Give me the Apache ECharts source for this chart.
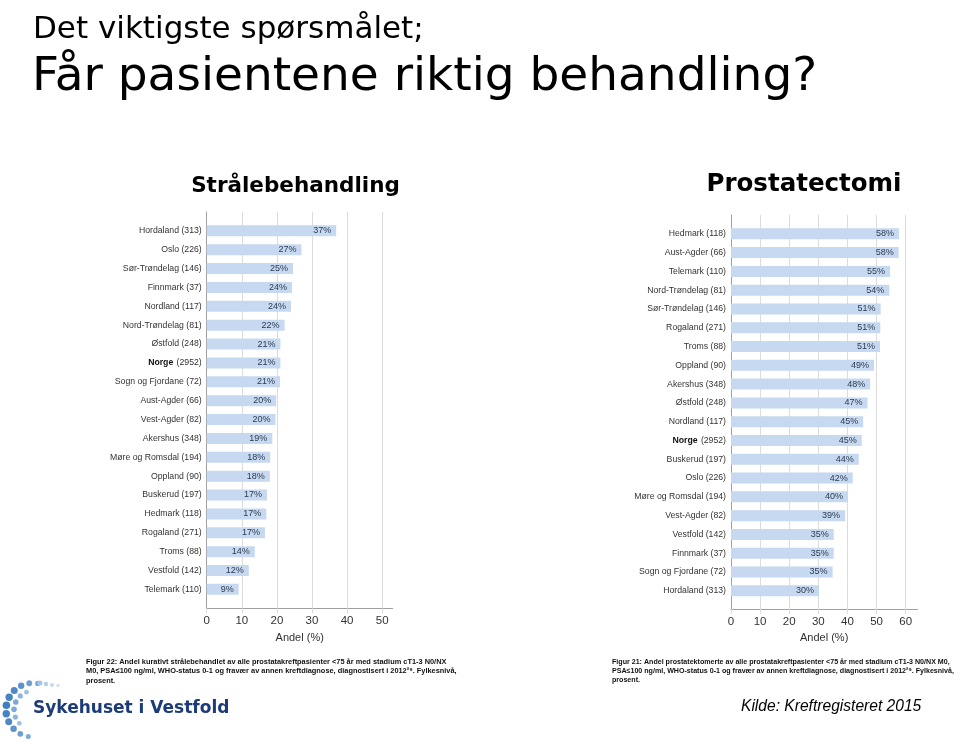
<!DOCTYPE html>
<html>
<head>
<meta charset="utf-8">
<script src="https://cdn.jsdelivr.net/npm/echarts@6/dist/echarts.min.js"></script>
<style>html,body{margin:0;padding:0;background:#fff}#c{width:959px;height:746px}</style>
</head>
<body>
<div id="c"></div>
<script>
// ---- Data ----
const leftRegions = ['Hordaland','Oslo','Sør-Trøndelag','Finnmark','Nordland','Nord-Trøndelag','Østfold','Norge','Sogn og Fjordane','Aust-Agder','Vest-Agder','Akershus','Møre og Romsdal','Oppland','Buskerud','Hedmark','Rogaland','Troms','Vestfold','Telemark'];
const leftN = [313,226,146,37,117,81,248,2952,72,66,82,348,194,90,197,118,271,88,142,110];
const leftValues = [36.9,27.0,24.6,24.3,24.0,22.2,21.0,21.0,20.9,19.8,19.6,18.7,18.1,18.0,17.2,17.0,16.6,13.7,12.0,9.1];

const rightRegions = ['Hedmark','Aust-Agder','Telemark','Nord-Trøndelag','Sør-Trøndelag','Rogaland','Troms','Oppland','Akershus','Østfold','Nordland','Norge','Buskerud','Oslo','Møre og Romsdal','Vest-Agder','Vestfold','Finnmark','Sogn og Fjordane','Hordaland'];
const rightN = [118,66,110,81,146,271,88,90,348,248,117,2952,197,226,194,82,142,37,72,313];
const rightValues = [57.7,57.6,54.6,54.4,51.4,51.3,51.2,49.1,47.8,46.9,45.4,44.9,43.9,41.8,40.2,39.2,35.3,35.3,34.9,30.2];

const leftTicksMax = 53;
const rightTicksMax = 64;
const axisName = 'Andel (%)';

// ---- Styles ----
const barColor = '#c6d9f0';
const gridLineColor = '#dcdcdc';
const axisColor = '#a0a0a0';
const textColor = '#333333';
const FONT = 'Liberation Sans, Arial, sans-serif';

function catLabels(regions, ns) {
  return regions.map((r, i) => r === 'Norge' ? '{b|' + r + '} {n|(' + ns[i] + ')}' : '{n|' + r + ' (' + ns[i] + ')}');
}

const chart = echarts.init(document.getElementById('c'), null, {renderer: 'canvas'});

function frameAxes(gridIndex, max) {
  return {
    x: {
      type: 'value', gridIndex: gridIndex, min: 0, max: max, interval: 10,
      axisLine: {show: true, lineStyle: {color: axisColor, width: 1}},
      axisTick: {show: true, length: 5, lineStyle: {color: gridLineColor}},
      axisLabel: {color: textColor, fontFamily: FONT, fontSize: 11.5, margin: 7, showMaxLabel: false},
      splitLine: {show: true, showMinLine: false, showMaxLine: false, lineStyle: {color: gridLineColor, width: 1}},
      name: axisName, nameLocation: 'middle', nameGap: 22,
      nameTextStyle: {color: textColor, fontFamily: FONT, fontSize: 11}
    },
    y: {
      type: 'value', gridIndex: gridIndex, min: 0, max: 1,
      axisLine: {show: true, lineStyle: {color: axisColor, width: 1}},
      axisTick: {show: false}, axisLabel: {show: false}, splitLine: {show: false}
    }
  };
}

function dataAxes(gridIndex, max, regions, ns) {
  return {
    x: {type: 'value', gridIndex: gridIndex, min: 0, max: max, show: false, splitLine: {show: false}},
    y: {
      type: 'category', gridIndex: gridIndex, inverse: true, data: catLabels(regions, ns),
      axisLine: {show: false}, axisTick: {show: false}, splitLine: {show: false},
      axisLabel: {
        margin: 5, interval: 0,
        rich: {
          n: {color: textColor, fontFamily: FONT, fontSize: 8.7},
          b: {color: '#111', fontFamily: FONT, fontSize: 8.7, fontWeight: 'bold'}
        }
      }
    }
  };
}

const fL = frameAxes(0, leftTicksMax), dL = dataAxes(1, leftTicksMax, leftRegions, leftN);
const fR = frameAxes(2, rightTicksMax), dR = dataAxes(3, rightTicksMax, rightRegions, rightN);

function barSeries(xi, values) {
  return {
    type: 'bar', xAxisIndex: xi, yAxisIndex: xi, data: values, barWidth: 11,
    itemStyle: {color: barColor}, silent: true,
    label: {
      show: true, position: 'insideRight', distance: 5,
      formatter: p => Math.round(p.value) + '%',
      color: '#2b3a4e', fontFamily: FONT, fontSize: 9
    }
  };
}

// logo dots (decoration)
const logoDots = [];
(function () {
  const cx = 33, cy = 710;
  const outer = [[-80,2.6,'#7fa9d6'],[-98,2.9,'#6f9fd0'],[-116,3.2,'#5d93cb'],[-134,3.5,'#4e88c6'],[-152,3.7,'#4683c4'],[-170,3.8,'#3f7ec2'],[172,3.7,'#4683c4'],[154,3.5,'#4e88c6'],[136,3.2,'#5d93cb'],[118,2.9,'#6f9fd0'],[100,2.5,'#7fa9d6']];
  outer.forEach(d => {
    const a = d[0] * Math.PI / 180;
    logoDots.push({type: 'circle', silent: true, shape: {cx: cx + 27 * Math.cos(a), cy: cy + 27 * Math.sin(a), r: d[1]}, style: {fill: d[2]}});
  });
  const inner = [[-110,2.4,'#9dbfe2'],[-132,2.6,'#8fb5dd'],[-155,2.8,'#7fa9d6'],[-178,2.8,'#7fa9d6'],[158,2.6,'#8fb5dd'],[136,2.3,'#9dbfe2']];
  inner.forEach(d => {
    const a = d[0] * Math.PI / 180;
    logoDots.push({type: 'circle', silent: true, shape: {cx: cx + 19 * Math.cos(a), cy: cy + 19 * Math.sin(a), r: d[1]}, style: {fill: d[2]}});
  });
  const trail = [[40,683,2.5,'#a9c5e6'],[46,684,2.3,'#b7cfea'],[52,685,2.0,'#c4d8ee'],[58,685.5,1.7,'#d0e0f2']];
  trail.forEach(d => logoDots.push({type: 'circle', silent: true, shape: {cx: d[0], cy: d[1], r: d[2]}, style: {fill: d[3]}}));
})();

chart.setOption({
  animation: false,
  backgroundColor: '#ffffff',
  grid: [
    {left: 206.7, top: 212, width: 186, height: 396.3},
    {left: 206.7, top: 221.4, width: 186, height: 377.4},
    {left: 731, top: 215, width: 186.3, height: 394},
    {left: 731, top: 224.4, width: 186.3, height: 375.8}
  ],
  xAxis: [fL.x, dL.x, fR.x, dR.x],
  yAxis: [fL.y, dL.y, fR.y, dR.y],
  series: [barSeries(1, leftValues), barSeries(3, rightValues)],
  graphic: [
    {type: 'text', left: 33, top: 14, silent: true, style: {text: 'Det viktigste spørsmålet;', font: '31px DejaVu Sans', fill: '#000'}},
    {type: 'text', left: 32, top: 54, silent: true, style: {text: 'Får pasientene riktig behandling?', font: '47px DejaVu Sans', fill: '#000'}},
    {type: 'text', x: 295.5, y: 186, silent: true, style: {text: 'Strålebehandling', font: 'bold 21.5px DejaVu Sans', fill: '#000', textAlign: 'center', textVerticalAlign: 'middle'}},
    {type: 'text', x: 804, y: 185, silent: true, style: {text: 'Prostatectomi', font: 'bold 24.5px DejaVu Sans', fill: '#000', textAlign: 'center', textVerticalAlign: 'middle'}},
    {type: 'text', x: 86, y: 657, silent: true, style: {text: 'Figur 22: Andel kurativt strålebehandlet av alle prostatakreftpasienter <75 år med stadium cT1-3 N0/NX\nM0, PSA≤100 ng/ml, WHO-status 0-1 og fravær av annen kreftdiagnose, diagnostisert i 2012²⁹. Fylkesnivå,\nprosent.', font: 'bold 7.4px ' + FONT, fill: '#111', lineHeight: 9.4}},
    {type: 'text', x: 612, y: 658, silent: true, style: {text: 'Figur 21: Andel prostatektomerte av alle prostatakreftpasienter <75 år med stadium cT1-3 N0/NX M0,\nPSA≤100 ng/ml, WHO-status 0-1 og fravær av annen kreftdiagnose, diagnostisert i 2012²⁹. Fylkesnivå,\nprosent.', font: 'bold 7.1px ' + FONT, fill: '#111', lineHeight: 9}},
    {type: 'text', x: 33, y: 709, silent: true, style: {text: 'Sykehuset i Vestfold', font: 'bold 17px DejaVu Sans', fill: '#1d3b78', textVerticalAlign: 'middle'}},
    {type: 'text', x: 741, y: 707, silent: true, style: {text: 'Kilde: Kreftregisteret 2015', font: 'italic 15.6px ' + FONT, fill: '#000', textVerticalAlign: 'middle'}}
  ].concat(logoDots)
});
</script>
</body>
</html>
